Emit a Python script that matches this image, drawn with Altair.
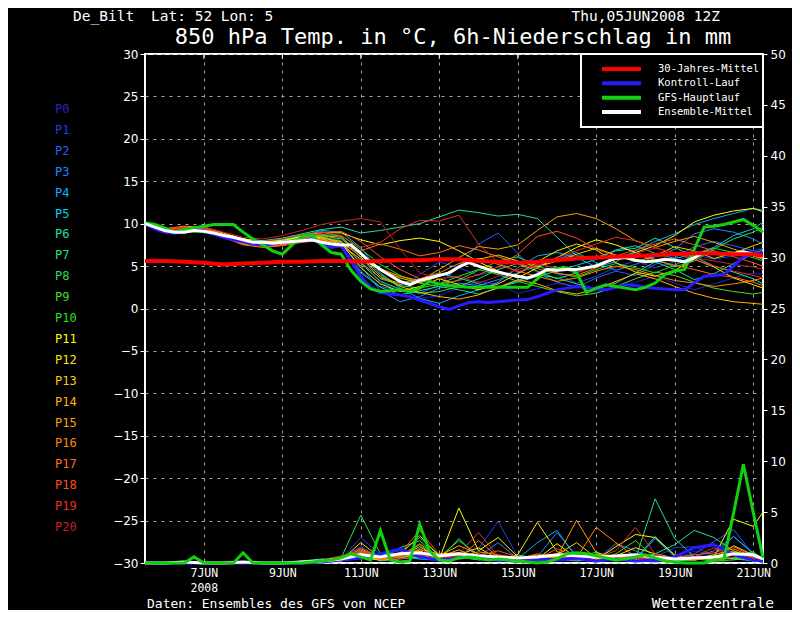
import altair as alt
import pandas as pd

FONT = "DejaVu Sans"
MONO = "DejaVu Sans Mono"

# ---------------- time axes (hours after Thu 05JUN2008 12Z) ----------------
H6 = list(range(0, 379, 6))              # 64 steps, 6-hourly
H12 = list(range(0, 373, 12)) + [378]    # 33 steps, 12-hourly

XTICKS = [36, 84, 132, 180, 228, 276, 324, 372]
XLABELS = ["7JUN", "9JUN", "11JUN", "13JUN", "15JUN", "17JUN", "19JUN", "21JUN"]
YEAR = "2008"

MEMBERS = [f"P{i}" for i in range(21)]
MEMBER_COLORS = ["#2a22c8", "#2040e0", "#2060ff", "#2088ff", "#10aaff", "#00d2e6",
                 "#20e0a0", "#20e07c", "#2ede50", "#40de2c", "#20e020", "#ffff00",
                 "#ffe400", "#ffcc00", "#ffb400", "#ffa000", "#ff8800", "#ff7018",
                 "#ff5020", "#e83020", "#c82020"]

# ---------------- 850 hPa temperature of the members (12-hourly) ----------------
T_P0 = [10.0, 9.1, 9.2, 9.0, 8.3, 7.6, 7.6, 7.9, 8.2, 7.9, 7.2,
        3.5, 2.0, 1.6, 1.2, 1.5, 2.5, 3.2, 2.8, 1.8, 2.3, 3.0,
        2.6, 1.9, 2.4, 3.1, 3.8, 3.0, 2.2, 2.9, 3.6, 4.2, 4.0]
T_P1 = [10.0, 9.2, 9.3, 9.1, 8.5, 7.9, 7.7, 7.6, 8.1, 8.3, 7.8,
        5.6, 3.0, 2.2, 4.0, 5.5, 4.8, 3.9, 4.6, 6.0, 5.2, 4.1,
        3.0, 3.8, 4.9, 5.6, 4.8, 5.5, 6.4, 5.8, 6.2, 6.8, 7.1]
T_P2 = [10.0, 9.0, 9.1, 9.2, 8.6, 8.0, 7.9, 8.0, 8.4, 8.8, 8.0,
        4.4, 2.6, 2.1, 1.8, 2.8, 5.0, 7.6, 8.9, 6.5, 4.2, 3.1,
        2.5, 3.6, 4.4, 3.9, 5.2, 6.0, 7.3, 7.9, 7.4, 6.8, 6.5]
T_P3 = [10.0, 9.1, 9.2, 9.4, 8.8, 8.1, 7.8, 8.1, 8.6, 8.2, 7.6,
        5.0, 2.1, 0.8, 1.4, 2.4, 3.0, 2.7, 3.4, 4.2, 5.0, 5.8,
        6.6, 5.4, 4.5, 5.2, 6.1, 7.0, 8.8, 9.4, 9.0, 8.2, 7.6]
T_P4 = [10.0, 9.2, 9.3, 9.2, 8.7, 7.9, 7.5, 7.9, 8.5, 9.2, 9.0,
        7.2, 4.2, 2.4, 1.2, 0.6, 1.5, 2.2, 3.1, 4.8, 6.2, 6.6,
        6.0, 4.9, 5.5, 6.8, 7.9, 8.8, 9.9, 10.6, 11.2, 11.8, 11.6]
T_P5 = [10.0, 9.3, 9.4, 9.3, 8.6, 8.0, 7.8, 8.2, 8.7, 9.0, 8.5,
        6.0, 3.5, 2.8, 3.4, 4.1, 3.6, 2.9, 2.5, 3.1, 3.8, 4.4,
        5.1, 5.8, 6.9, 7.4, 6.5, 5.9, 6.4, 7.2, 8.6, 9.4, 10.2]
T_P6 = [10.0, 9.2, 9.0, 9.1, 8.7, 8.2, 8.0, 8.3, 8.8, 9.3, 9.6,
        8.9, 9.2, 9.6, 10.0, 10.8, 11.6, 11.3, 10.9, 11.1, 10.6, 8.4,
        6.2, 6.0, 6.8, 7.1, 8.3, 7.2, 6.1, 5.0, 4.3, 3.5, 2.9]
T_P7 = [10.0, 9.1, 9.1, 9.0, 8.4, 7.8, 7.7, 7.9, 8.3, 8.0, 7.3,
        4.2, 2.5, 1.6, 2.1, 2.6, 2.2, 1.7, 2.4, 3.3, 4.0, 3.6,
        2.9, 2.3, 3.0, 4.2, 5.5, 4.6, 3.4, 4.1, 5.3, 6.4, 7.0]
T_P8 = [10.0, 9.2, 9.2, 9.3, 8.7, 8.1, 7.9, 8.1, 8.6, 8.5, 7.9,
        5.3, 3.2, 2.3, 1.8, 2.0, 2.6, 3.5, 4.6, 5.3, 4.4, 3.5,
        4.2, 5.2, 6.0, 6.6, 5.8, 4.9, 5.6, 7.0, 8.2, 9.0, 9.6]
T_P9 = [10.0, 9.0, 9.2, 9.2, 8.6, 8.0, 7.8, 8.0, 8.4, 8.6, 8.2,
        6.4, 4.0, 2.7, 2.4, 2.9, 3.8, 4.6, 4.0, 3.2, 2.6, 2.0,
        1.5, 1.8, 2.6, 3.5, 4.3, 3.9, 3.1, 2.4, 2.0, 1.7, 1.9]
T_P10 = [10.0, 9.3, 9.4, 9.3, 8.5, 7.8, 7.7, 8.0, 8.3, 8.7, 8.6,
         7.0, 5.2, 3.9, 3.0, 2.6, 3.4, 4.5, 5.6, 6.1, 5.0, 4.2,
         3.7, 4.6, 5.3, 4.8, 4.2, 5.1, 6.3, 7.1, 6.6, 6.0, 5.6]
T_P11 = [10.0, 9.2, 9.4, 9.6, 8.9, 8.2, 7.9, 8.0, 8.5, 9.0, 8.9,
         8.1, 7.5, 8.0, 8.3, 7.9, 6.8, 5.5, 4.4, 3.6, 4.8, 6.0,
         7.2, 8.1, 7.5, 6.6, 7.4, 8.6, 10.2, 11.0, 11.5, 11.8, 11.4]
T_P12 = [10.0, 9.1, 9.3, 9.5, 8.8, 8.0, 7.7, 7.8, 8.2, 8.4, 7.7,
         4.8, 2.9, 2.0, 2.6, 3.5, 2.8, 2.2, 2.9, 4.1, 5.5, 6.8,
         7.6, 6.9, 5.4, 4.3, 3.8, 4.5, 5.8, 4.9, 3.6, 2.8, 2.4]
T_P13 = [10.0, 9.3, 9.5, 9.4, 8.7, 7.9, 7.6, 7.7, 8.0, 8.2, 7.5,
         5.8, 4.6, 3.6, 3.0, 3.8, 4.9, 5.8, 6.3, 5.6, 4.9, 5.6,
         6.4, 7.1, 6.3, 5.5, 6.2, 7.3, 6.8, 5.9, 6.5, 7.4, 7.8]
T_P14 = [10.0, 9.2, 9.6, 9.5, 8.6, 7.8, 7.5, 7.6, 8.0, 8.3, 7.9,
         6.1, 3.8, 2.6, 1.9, 1.4, 1.1, 1.6, 2.5, 3.4, 2.9, 2.1,
         1.7, 2.3, 3.2, 4.1, 3.5, 2.6, 1.8, 1.2, 0.8, 0.6, 0.5]
T_P15 = [10.0, 9.4, 9.7, 9.6, 8.7, 7.7, 7.4, 7.6, 8.1, 8.6, 8.4,
         6.5, 4.7, 3.8, 3.3, 4.6, 6.0, 7.3, 7.0, 7.5, 9.2, 10.8,
         11.2, 10.6, 9.4, 8.0, 7.2, 7.9, 8.5, 7.8, 7.0, 6.2, 5.8]
T_P16 = [10.0, 9.3, 9.6, 9.4, 8.5, 7.6, 7.3, 7.5, 7.9, 8.1, 7.7,
         5.4, 3.6, 3.0, 3.5, 4.2, 5.3, 5.9, 5.2, 4.4, 3.8, 3.2,
         3.6, 4.4, 5.0, 4.6, 3.9, 3.3, 3.0, 2.6, 2.9, 3.3, 3.6]
T_P17 = [10.0, 9.2, 9.4, 9.3, 8.4, 7.5, 7.2, 7.4, 7.8, 8.0, 7.4,
         6.8, 7.6, 7.0, 6.2, 6.6, 7.4, 6.9, 6.1, 5.3, 4.7, 4.1,
         3.9, 4.8, 5.9, 6.4, 5.7, 5.1, 4.6, 4.0, 3.7, 3.1, 2.7]
T_P18 = [10.0, 9.3, 9.5, 9.4, 8.6, 7.8, 7.5, 7.7, 8.2, 8.9, 9.1,
         7.9, 6.1, 4.6, 3.5, 2.9, 3.3, 4.0, 4.9, 6.4, 8.5, 9.1,
         8.3, 7.0, 6.2, 6.9, 7.6, 8.2, 7.5, 6.8, 6.1, 5.4, 5.0]
T_P19 = [10.0, 9.4, 9.6, 9.5, 8.8, 8.1, 7.9, 8.2, 8.7, 9.0, 8.6,
         7.2, 7.8, 9.4, 10.4, 10.3, 11.0, 7.6, 5.4, 4.3, 5.1, 6.0,
         6.8, 7.6, 8.4, 8.0, 7.2, 6.5, 5.8, 5.0, 4.4, 3.9, 3.6]
T_P20 = [10.0, 9.2, 9.4, 9.6, 9.0, 8.4, 8.2, 8.6, 9.2, 9.9, 10.3,
         10.6, 10.2, 7.0, 4.2, 3.5, 3.8, 3.0, 3.8, 4.6, 5.2, 4.8,
         4.2, 5.0, 5.8, 6.5, 7.1, 6.6, 6.0, 5.6, 5.2, 4.9, 4.6]

# ---------------- 6h precipitation of the members (12-hourly) ----------------
R_P0 = [0, 0, 0, 0, 0, 0, 0, 0, 0, 0.1, 0.2,
        0.6, 0.3, 0.9, 0.4, 0.2, 0.6, 0.3, 0.2, 0.1, 0.4, 0.2,
        0.3, 0.1, 0.5, 0.2, 0.1, 0.3, 1.2, 0.8, 0.4, 0.2, 0.1]
R_P1 = [0, 0, 0, 0, 0, 0, 0, 0, 0, 0.2, 0.4,
        2.5, 0.8, 1.2, 0.5, 0.3, 1.0, 1.4, 4.1, 0.6, 0.3, 0.5,
        0.2, 0.4, 0.3, 0.2, 0.6, 1.5, 1.6, 0.7, 0.4, 0.2, 0.1]
R_P2 = [0, 0, 0, 0, 0, 0, 0, 0, 0.1, 0.3, 0.5,
        1.6, 0.4, 0.8, 1.1, 0.4, 0.6, 0.9, 0.5, 0.3, 0.7, 0.4,
        0.8, 0.3, 0.4, 0.6, 0.3, 0.5, 0.9, 2.1, 3.3, 0.8, 0.3]
R_P3 = [0, 0, 0, 0, 0, 0, 0, 0, 0, 0.1, 0.3,
        0.9, 0.5, 0.7, 0.9, 0.3, 0.8, 0.6, 2.0, 0.4, 0.6, 3.0,
        0.7, 0.3, 1.9, 1.2, 0.4, 0.3, 0.6, 1.2, 2.6, 0.9, 0.4]
R_P4 = [0, 0, 0, 0, 0, 0, 0, 0, 0, 0.2, 0.4,
        1.2, 0.6, 0.5, 1.4, 0.5, 0.4, 0.7, 0.3, 0.4, 2.0, 3.2,
        0.5, 0.2, 0.4, 0.3, 2.4, 0.6, 0.5, 0.8, 2.6, 1.0, 0.2]
R_P5 = [0, 0, 0, 0, 0, 0, 0, 0, 0, 0.1, 0.2,
        0.5, 0.3, 0.6, 0.4, 0.3, 0.9, 0.5, 0.2, 0.3, 0.6, 0.4,
        0.2, 0.5, 0.3, 0.4, 2.6, 0.7, 0.3, 0.5, 0.4, 0.3, 0.2]
R_P6 = [0, 0, 0, 0, 0, 0, 0, 0, 0.2, 0.4, 0.3,
        0.8, 0.2, 0.4, 0.6, 0.3, 2.4, 0.5, 0.3, 0.2, 0.5, 0.3,
        0.6, 0.4, 0.2, 0.4, 0.9, 1.8, 3.2, 2.5, 1.2, 0.4, 0.2]
R_P7 = [0, 0, 0, 0, 0, 0, 0, 0, 0, 0.3, 0.6,
        1.0, 0.4, 1.5, 2.2, 0.4, 0.6, 0.3, 0.4, 0.5, 0.3, 0.7,
        0.4, 1.1, 0.3, 0.4, 6.3, 2.4, 0.6, 0.3, 0.5, 0.2, 0.1]
R_P8 = [0, 0, 0, 0, 0, 0, 0, 0, 0, 0.2, 0.5,
        4.7, 0.9, 0.6, 1.8, 0.4, 0.7, 0.5, 0.3, 0.8, 0.4, 0.5,
        0.3, 0.6, 0.5, 0.3, 0.4, 0.2, 0.3, 0.6, 0.4, 0.3, 0.2]
R_P9 = [0, 0, 0, 0, 0, 0, 0, 0, 0, 0.1, 0.3,
        0.7, 0.4, 0.9, 0.5, 0.6, 2.2, 0.8, 0.4, 0.3, 0.2, 0.4,
        0.6, 0.3, 0.9, 2.2, 0.5, 0.3, 0.4, 0.2, 0.3, 0.6, 0.3]
R_P10 = [0, 0, 0, 0, 0, 0, 0, 0, 0, 0.2, 0.4,
         0.9, 0.6, 1.0, 2.5, 0.8, 0.5, 0.4, 0.6, 0.3, 0.5, 0.3,
         0.4, 0.8, 0.6, 0.3, 0.2, 0.4, 0.5, 0.3, 0.8, 1.1, 0.4]
R_P11 = [0, 0, 0, 0, 0, 0, 0, 0, 0, 0.1, 0.2,
         0.6, 0.3, 0.5, 0.8, 0.4, 5.4, 1.2, 2.5, 0.6, 0.4, 1.9,
         0.5, 0.3, 1.6, 2.8, 2.5, 0.8, 0.4, 0.6, 4.3, 3.6, 5.0]
R_P12 = [0, 0, 0, 0, 0, 0, 0, 0, 0, 0.2, 0.3,
         2.0, 0.5, 0.7, 1.3, 0.9, 1.0, 0.6, 0.4, 0.8, 4.0, 1.1,
         0.6, 0.4, 0.7, 1.5, 0.9, 0.5, 0.6, 0.4, 1.7, 0.8, 0.3]
R_P13 = [0, 0, 0, 0, 0, 0, 0, 0, 0, 0.1, 0.3,
         1.1, 0.4, 0.6, 1.6, 0.5, 0.8, 1.5, 0.4, 0.3, 0.6, 0.8,
         2.0, 0.5, 0.3, 0.4, 0.6, 0.3, 0.5, 0.4, 0.9, 0.5, 0.3]
R_P14 = [0, 0, 0, 0, 0, 0, 0, 0, 0, 0.2, 0.4,
         1.4, 0.6, 0.8, 2.7, 0.6, 1.3, 0.4, 0.7, 0.5, 0.3, 0.6,
         0.4, 0.9, 0.5, 0.3, 0.5, 0.4, 0.3, 0.6, 1.2, 0.5, 0.2]
R_P15 = [0, 0, 0, 0, 0, 0, 0, 0, 0, 0.1, 0.2,
         0.8, 0.3, 0.5, 1.0, 0.7, 1.7, 0.9, 0.5, 0.4, 0.8, 0.6,
         4.2, 1.0, 0.6, 0.3, 0.4, 0.5, 0.3, 0.8, 1.4, 0.6, 0.3]
R_P16 = [0, 0, 0, 0, 0, 0, 0, 0, 0, 0.2, 0.3,
         0.6, 0.5, 0.9, 1.2, 0.4, 0.6, 1.1, 0.8, 0.5, 0.3, 0.7,
         0.5, 3.5, 2.0, 0.6, 0.4, 0.3, 0.6, 0.4, 0.5, 0.8, 0.3]
R_P17 = [0, 0, 0, 0, 0, 0, 0, 0, 0.1, 0.3, 0.5,
         1.0, 0.3, 0.7, 1.9, 0.6, 0.4, 2.2, 0.6, 0.4, 0.9, 0.5,
         0.3, 0.6, 0.4, 0.7, 0.5, 0.4, 0.3, 0.5, 1.0, 0.6, 0.2]
R_P18 = [0, 0, 0, 0, 0, 0, 0, 0, 0, 0.2, 0.6,
         1.3, 0.4, 0.9, 3.2, 0.8, 0.5, 0.7, 1.2, 0.6, 0.4, 1.4,
         0.6, 0.3, 0.5, 0.4, 0.6, 0.5, 0.8, 1.0, 1.6, 0.7, 0.3]
R_P19 = [0, 0, 0, 0, 0, 0, 0, 0, 0, 0.3, 0.7,
         1.1, 0.5, 0.6, 1.4, 0.5, 0.9, 3.0, 0.7, 0.5, 0.3, 0.4,
         0.7, 0.5, 1.2, 3.5, 0.9, 0.4, 0.6, 1.5, 0.7, 0.4, 0.2]
R_P20 = [0, 0, 0, 0, 0, 0, 0, 0, 0, 0.2, 0.5,
         1.5, 0.6, 0.4, 0.8, 0.5, 0.7, 0.4, 0.6, 0.3, 0.5, 0.4,
         0.3, 0.6, 0.4, 0.5, 0.3, 0.6, 0.4, 0.7, 0.9, 0.5, 0.2]

# ---------------- highlighted series ----------------
# Kontroll-Lauf, 6-hourly temperature
T_CONTROL = [10.0, 9.4, 9.0, 8.9, 9.0, 9.3, 9.2, 8.8,
             8.4, 8.1, 7.9, 7.6, 7.5, 7.6, 7.8, 7.9,
             8.0, 8.2, 7.6, 7.2, 7.4, 5.6, 3.8, 2.4,
             1.9, 1.7, 1.6, 1.4, 1.0, 0.6, 0.2, -0.1,
             0.3, 0.7, 0.8, 0.7, 0.8, 0.9, 1.0, 1.05,
             1.4, 1.8, 2.2, 2.4, 2.6, 2.5, 2.3, 2.2,
             2.5, 2.8, 2.7, 2.5, 2.4, 2.3, 2.2, 2.2,
             3.0, 3.8, 3.9, 4.0, 5.0, 6.1, 6.4, 6.6]
# GFS-Hauptlauf, 6-hourly temperature
T_GFS = [10.1, 9.9, 9.5, 9.0, 9.3, 9.5, 9.7, 9.9,
         9.9, 9.9, 9.0, 8.2, 7.5, 6.8, 6.4, 7.5,
         8.5, 8.7, 7.5, 6.6, 6.4, 4.5, 3.2, 2.3,
         2.0, 2.1, 2.2, 2.0, 2.4, 3.2, 2.9, 2.7,
         2.6, 2.5, 2.5, 2.5, 2.5, 2.5, 2.5, 2.5,
         3.5, 4.6, 4.7, 4.8, 4.2, 1.9, 2.4, 2.8,
         2.6, 2.4, 2.2, 2.5, 3.0, 4.0, 4.4, 4.6,
         7.0, 9.6, 9.7, 9.9, 10.2, 10.5, 9.8, 9.0]
# Ensemble-Mittel, 6-hourly temperature
T_MEAN = [10.0, 9.6, 9.2, 9.0, 9.0, 9.2, 9.1, 8.9,
          8.6, 8.4, 8.1, 7.8, 7.8, 7.7, 7.8, 7.9,
          8.0, 8.1, 7.8, 7.6, 7.5, 7.5, 6.5, 5.4,
          4.6, 3.9, 3.2, 2.8, 3.3, 3.6, 3.9, 4.2,
          4.9, 5.4, 5.0, 4.6, 4.3, 4.0, 3.8, 3.6,
          4.0, 4.6, 4.5, 4.6, 4.6, 4.8, 5.0, 5.5,
          5.9, 6.0, 5.7, 5.5, 5.6, 5.8, 5.7, 5.5,
          6.0, 6.6, 6.5, 6.4, 6.5, 6.7, 6.4, 6.1]
# 30-Jahres-Mittel, 12-hourly temperature
T_CLIMATE = [5.6, 5.6, 5.5, 5.4, 5.2, 5.3, 5.4, 5.5, 5.5, 5.6, 5.6,
             5.5, 5.6, 5.7, 5.7, 5.8, 5.8, 5.6, 5.5, 5.4, 5.5, 5.7,
             5.9, 6.0, 6.1, 6.2, 6.3, 6.4, 6.5, 6.5, 6.4, 6.4, 6.2]
# GFS-Hauptlauf precipitation, 6-hourly
R_GFS = [0, 0, 0, 0, 0, 0.6, 0, 0,
         0, 0, 1.0, 0, 0, 0, 0, 0,
         0, 0.1, 0.2, 0.3, 0.5, 0.9, 0.6, 0.3,
         3.2, 0.3, 0.1, 0.2, 3.8, 1.2, 0.3, 0.2,
         0.5, 0.6, 0.5, 0.3, 0.4, 0.3, 0.2, 0.1,
         0.0, 0.1, 0.4, 0.9, 1.0, 0.9, 0.7, 0.5,
         0.3, 0.4, 0.6, 0.8, 0.5, 0.2, 0.1, 0.0,
         0.0, 0.0, 0.3, 0.3, 4.9, 9.7, 5.0, 0.5]
# Kontroll-Lauf and Ensemble-Mittel precipitation, 12-hourly
R_CONTROL = [0, 0, 0, 0, 0, 0, 0, 0, 0, 0.1, 0.3,
             0.5, 0.9, 1.4, 0.6, 0.3, 0.5, 0.7, 0.3, 0.2, 0.4, 0.3,
             0.5, 0.2, 0.4, 0.2, 0.3, 0.6, 1.5, 1.8, 0.8, 0.3, 0.2]
R_MEAN = [0, 0, 0.1, 0, 0, 0.1, 0, 0, 0.1, 0.2, 0.4,
          0.8, 0.6, 0.9, 1.0, 0.7, 0.9, 0.7, 0.6, 0.5, 0.6, 0.8,
          0.7, 0.6, 0.7, 0.8, 0.6, 0.4, 0.5, 0.6, 0.9, 0.8, 0.4]

LEG_NAMES = ["30-Jahres-Mittel", "Kontroll-Lauf", "GFS-Hauptlauf", "Ensemble-Mittel"]
LEG_COLORS = ["#ff0000", "#2a1aff", "#10d010", "#ffffff"]

TITLE = "850 hPa Temp. in °C, 6h-Niederschlag in mm"
STATION = "De_Bilt"
COORDS = "Lat: 52 Lon: 5"
RUN = "Thu,05JUN2008 12Z"
SOURCE = "Daten: Ensembles des GFS von NCEP"
BRAND = "Wetterzentrale"

# ---------------- data frames ----------------
T_MEMBERS = [T_P0, T_P1, T_P2, T_P3, T_P4, T_P5, T_P6, T_P7, T_P8, T_P9, T_P10,
             T_P11, T_P12, T_P13, T_P14, T_P15, T_P16, T_P17, T_P18, T_P19, T_P20]
R_MEMBERS = [R_P0, R_P1, R_P2, R_P3, R_P4, R_P5, R_P6, R_P7, R_P8, R_P9, R_P10,
             R_P11, R_P12, R_P13, R_P14, R_P15, R_P16, R_P17, R_P18, R_P19, R_P20]

frames = []
for name, t, r in zip(MEMBERS, T_MEMBERS, R_MEMBERS):
    frames.append(pd.DataFrame({"member": name, "h": H12, "temp": t, "rain": r}))
members_df = pd.concat(frames, ignore_index=True)

def series(hours, values):
    return pd.DataFrame({"h": hours, "v": values})

grid_kw = dict(grid=True, gridColor="#a8a8a8", gridDash=[3, 5], gridWidth=1)

x_axis = alt.Axis(
    values=XTICKS,
    labelExpr="[" + ",".join(
        [f"['{XLABELS[0]}','{YEAR}']"] + [f"'{l}'" for l in XLABELS[1:]]
    ) + "][indexof(" + str(XTICKS) + ", datum.value)]",
    ticks=False, domain=False, labelPadding=4, labelFontSize=11.5, labelFont=MONO,
    labelLineHeight=15, title=None, **grid_kw)
X = alt.X("h:Q", scale=alt.Scale(domain=[0, 378], nice=False, zero=False), axis=x_axis)

temp_scale = alt.Scale(domain=[-30, 30], nice=False, zero=False)
rain_scale = alt.Scale(domain=[0, 50], nice=False, zero=False)

left_axis = alt.Axis(orient="left", values=list(range(-30, 31, 5)), tickSize=5,
                     labelPadding=2, domain=False, labelFontSize=12, title=None, **grid_kw)
right_axis = alt.Axis(orient="right", values=list(range(0, 51, 5)), tickSize=4,
                      labelPadding=3, domain=False, grid=False, labelFontSize=12, title=None)

member_color = alt.Color("member:N", scale=alt.Scale(domain=MEMBERS, range=MEMBER_COLORS), legend=None)

temp_members = alt.Chart(members_df).mark_line(strokeWidth=1).encode(
    x=X, y=alt.Y("temp:Q", scale=temp_scale, axis=left_axis), color=member_color)

rain_members = alt.Chart(members_df).mark_line(strokeWidth=1).encode(
    x=X, y=alt.Y("rain:Q", scale=rain_scale, axis=right_axis), color=member_color)

def thick(df, scale, color, width):
    return alt.Chart(df).mark_line(strokeWidth=width, color=color).encode(
        x=X, y=alt.Y("v:Q", scale=scale, axis=None))

rain_control = thick(series(H12, R_CONTROL), rain_scale, LEG_COLORS[1], 3)
rain_mean = thick(series(H12, R_MEAN), rain_scale, LEG_COLORS[3], 3)
rain_gfs = thick(series(H6, R_GFS), rain_scale, LEG_COLORS[2], 3)

temp_control = thick(series(H6, T_CONTROL), temp_scale, LEG_COLORS[1], 3)
temp_gfs = thick(series(H6, T_GFS), temp_scale, LEG_COLORS[2], 3)
temp_mean = thick(series(H6, T_MEAN), temp_scale, LEG_COLORS[3], 3)
temp_clim = thick(series(H12, T_CLIMATE), temp_scale, LEG_COLORS[0], 4)

# small ticks hanging from the top frame at the date positions
top_ticks = alt.Chart(pd.DataFrame({"h": XTICKS})).mark_rule(color="white", strokeWidth=1).encode(
    x=X, y=alt.value(0), y2=alt.value(5))

# legend box (top right)
leg_df = pd.DataFrame({"name": LEG_NAMES, "row": list(range(len(LEG_NAMES)))})
leg_y = alt.Y("row:Q", scale=alt.Scale(domain=[0, 3], range=[15, 58], nice=False, zero=False), axis=None)
leg_box = alt.Chart(pd.DataFrame({"a": [0]})).mark_rect(
    fill="black", stroke="white", strokeWidth=2).encode(
    x=alt.value(436), x2=alt.value(618), y=alt.value(0), y2=alt.value(73))
leg_lines = alt.Chart(leg_df).mark_rule(strokeWidth=4).encode(
    x=alt.value(457), x2=alt.value(496), y=leg_y,
    color=alt.Color("name:N", scale=alt.Scale(domain=LEG_NAMES, range=LEG_COLORS), legend=None))
leg_text = alt.Chart(leg_df).mark_text(
    align="left", baseline="middle", font=MONO, fontSize=10.5, color="white").encode(
    x=alt.value(513), y=leg_y, text="name:N")

# member labels on the left
lab_df = pd.DataFrame({"member": MEMBERS, "idx": list(range(len(MEMBERS)))})
member_labels = alt.Chart(lab_df).mark_text(
    align="left", baseline="middle", font=MONO, fontSize=12).encode(
    x=alt.value(-90),
    y=alt.Y("idx:Q", scale=alt.Scale(domain=[0, 20], range=[55, 473], nice=False, zero=False), axis=None),
    text="member:N", color=member_color)

def label(txt, x, y, size, align="left"):
    return alt.Chart(pd.DataFrame({"t": [txt]})).mark_text(
        align=align, baseline="alphabetic", font=MONO, fontSize=size, color="white").encode(
        x=alt.value(x), y=alt.value(y), text="t:N")

texts = [
    label(STATION, -72, -33, 14.5),
    label(COORDS, 6, -33, 14.5),
    label(RUN, 575, -33, 14.5, "right"),
    label(TITLE, 308, -10, 22, "center"),
    label(SOURCE, 2, 554, 13),
    label(BRAND, 629, 554, 14.5, "right"),
]

chart = alt.layer(
    temp_members, rain_members,
    rain_control, rain_mean, rain_gfs,
    temp_control, temp_gfs, temp_mean, temp_clim, top_ticks,
    leg_box, leg_lines, leg_text, member_labels, *texts
).resolve_scale(y="independent", color="independent").properties(
    width=618, height=509,
    autosize=alt.AutoSizeParams(type="none"),
    padding={"left": 137, "top": 46, "right": 29, "bottom": 47},
    background="black",
).configure_view(
    stroke="white", strokeWidth=2, fill="black"
).configure_axis(
    labelColor="white", tickColor="white", labelFont=FONT
)

chart.save("out.html", embed_options={"renderer": "svg", "actions": False})
